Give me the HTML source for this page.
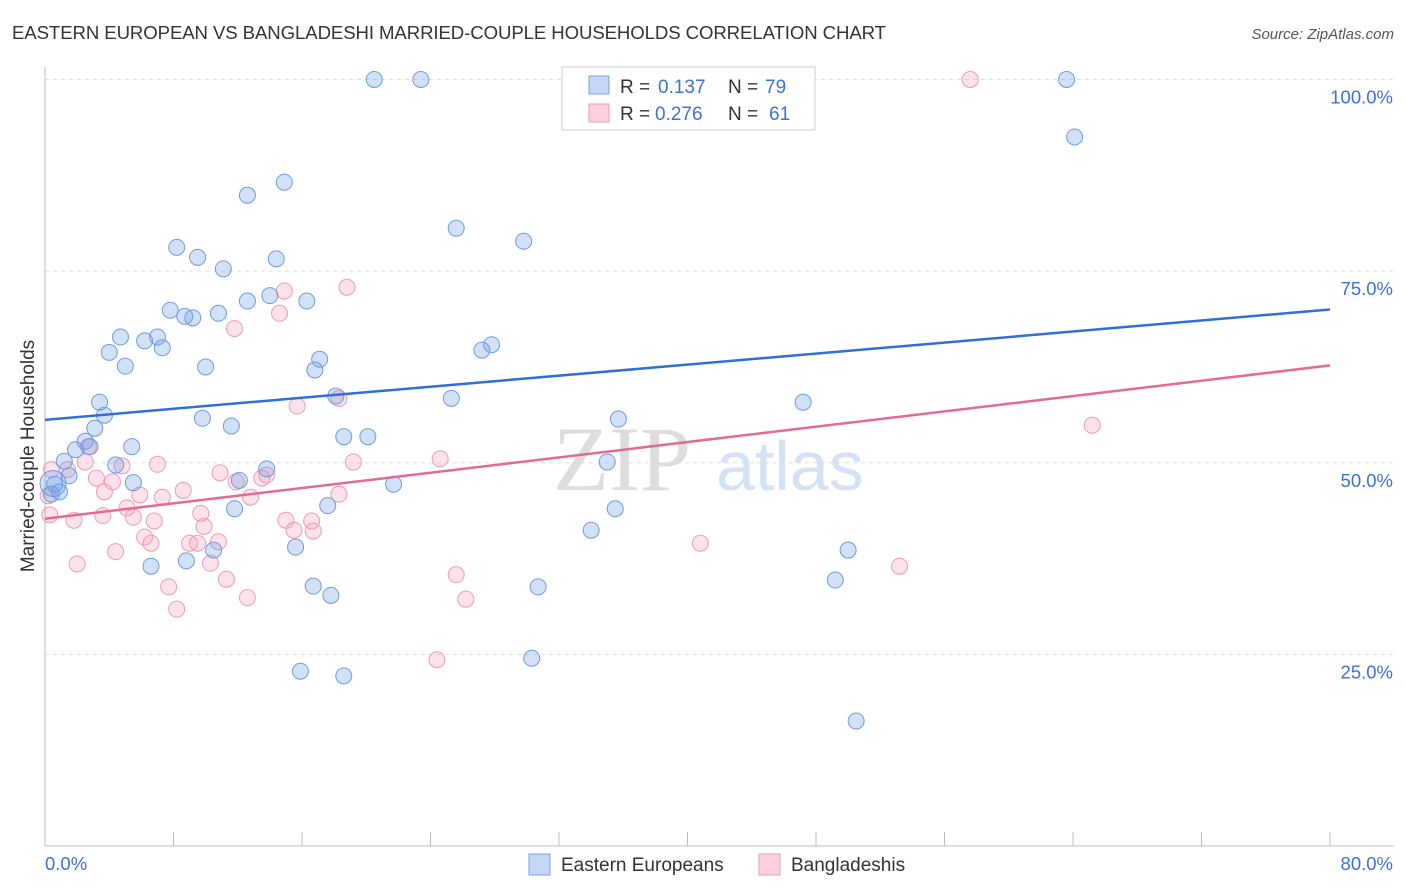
<!DOCTYPE html>
<html><head><meta charset="utf-8"><style>
body{margin:0;background:#fff;font-family:"Liberation Sans",sans-serif;}
svg{display:block}
</style></head><body>
<svg id="chart" width="1406" height="892">
<text x="12" y="39" font-size="18.6" fill="#333" textLength="874">EASTERN EUROPEAN VS BANGLADESHI MARRIED-COUPLE HOUSEHOLDS CORRELATION CHART</text>
<text x="1394" y="39" font-size="15" fill="#555" font-style="italic" text-anchor="end">Source: ZipAtlas.com</text>
<text x="34" y="456" font-size="19" fill="#333" text-anchor="middle" transform="rotate(-90 34 456)">Married-couple Households</text>
<g id="grid"></g><g id="axes"></g>
<text x="553" y="490" font-size="92" fill="#ddd" font-family="Liberation Serif,serif">ZIP</text>
<text x="716" y="490" font-size="70" fill="#d5e2f3">atlas</text>
<g id="points"></g><g id="lines"></g>
<g>
<rect x="562" y="67" width="253" height="63" fill="#fff" stroke="#ccc"/>
<rect x="589" y="76" width="20" height="18" fill="#c5d7f5" stroke="#7aa3e0"/>
<rect x="589" y="104" width="20" height="18" fill="#fbd0dd" stroke="#eb9ab5"/>
<text x="620" y="93" font-size="19" fill="#333">R =</text>
<text x="658" y="93" font-size="19" fill="#3a72d6">0.137</text>
<text x="728" y="93" font-size="19" fill="#333">N =</text>
<text x="765" y="93" font-size="19" fill="#3a72d6">79</text>
<text x="620" y="120" font-size="19" fill="#333">R =</text>
<text x="655" y="120" font-size="19" fill="#3a72d6">0.276</text>
<text x="728" y="120" font-size="19" fill="#333">N =</text>
<text x="769" y="120" font-size="19" fill="#3a72d6">61</text>
</g>
<g>
<rect x="529" y="854" width="21" height="21" fill="#c5d7f5" stroke="#7aa3e0"/>
<text x="561" y="871" font-size="19" fill="#333">Eastern Europeans</text>
<rect x="759" y="854" width="21" height="21" fill="#fbd0dd" stroke="#eb9ab5"/>
<text x="791" y="871" font-size="19" fill="#333">Bangladeshis</text>
</g>
</svg>
<script>
const blueX=[20.5,23.4,63.6,64.1,14.9,12.6,25.6,29.8,8.2,9.5,14.4,11.1,14.0,12.6,16.3,7.8,8.7,9.2,10.8,4.7,6.2,7.0,4.0,7.3,27.8,27.2,5.0,10.0,17.1,16.8,18.1,25.3,47.2,3.4,3.7,9.8,35.7,11.6,3.1,18.6,20.1,2.5,1.9,2.8,5.4,1.2,35.0,4.4,13.8,1.5,12.1,0.6,5.5,21.7,0.9,0.4,17.6,11.8,35.5,34.0,15.6,10.5,50.0,8.8,6.6,49.2,16.7,30.7,17.8,30.3,15.9,18.6,50.5];
const blueY=[100,100,100,92.5,86.6,84.9,80.6,78.9,78.1,76.8,76.6,75.3,71.8,71.1,71.1,69.9,69.1,68.9,69.5,66.4,65.9,66.4,64.4,65.0,65.4,64.7,62.6,62.5,63.5,62.1,58.7,58.4,57.9,57.9,56.2,55.8,55.7,54.8,54.5,53.4,53.4,52.8,51.7,52.1,52.1,50.2,50.1,49.7,49.2,48.3,47.7,47.2,47.4,47.2,46.2,45.9,44.4,44.0,44.0,41.2,39.0,38.6,38.6,37.2,36.5,34.7,33.9,33.8,32.7,24.5,22.8,22.2,16.3];
const pinkX=[57.6,14.9,18.8,14.6,11.8,15.7,18.3,65.2,2.7,24.6,19.2,7.0,2.5,4.8,1.4,0.4,10.9,13.8,13.5,3.2,4.2,11.9,8.6,3.7,5.9,7.3,12.8,18.3,0.2,5.1,9.7,0.3,3.6,5.5,1.8,15.0,16.6,6.8,9.9,15.5,16.7,6.2,6.6,9.0,9.5,10.8,40.8,4.4,10.3,2.0,53.2,11.3,25.6,7.7,12.6,26.2,8.2,24.4];
const pinkY=[100,72.4,72.9,69.5,67.5,57.4,58.4,54.9,52.1,50.5,50.1,49.8,50.1,49.6,49.1,49.1,48.7,48.4,48.0,48.0,47.5,47.5,46.4,46.2,45.8,45.5,45.5,45.9,45.7,44.1,43.4,43.2,43.1,42.9,42.5,42.5,42.4,42.4,41.7,41.2,41.1,40.3,39.5,39.5,39.5,39.7,39.5,38.4,36.9,36.8,36.5,34.8,35.4,33.8,32.4,32.2,30.9,24.3];
const blueTrend=[55.6,70.0];
const pinkTrend=[42.7,62.7];
const yTicks=[25,50,75,100];
const yTickLabels=["25.0%","50.0%","75.0%","100.0%"];
const xTickVals=[0,8,16,24,32,40,48,56,64,72,80];
const NS="http://www.w3.org/2000/svg";
const sx=v=>45+v/80*1285, sy=v=>846-v*7.665;
function mk(tag,attrs,parent){const e=document.createElementNS(NS,tag);for(const k in attrs)e.setAttribute(k,attrs[k]);document.getElementById(parent).appendChild(e);return e;}
yTicks.forEach((t,i)=>{
 const l=mk('line',{x1:45,x2:1394,y1:sy(t),y2:sy(t),stroke:'#ddd','stroke-dasharray':'4,4'},'grid');
 
 
 const tx=mk('text',{x:1393,y:sy(t)+24,'font-size':18.5,fill:'#3a72d6','text-anchor':'end'},'grid');
 tx.textContent=yTickLabels[i];
 
 
});
const ax=mk('line',{x1:45,x2:1394,y1:846,y2:846,stroke:'#bbb'},'axes');


const ay=mk('line',{x1:45,x2:45,y1:67,y2:846,stroke:'#bbb'},'axes');


xTickVals.forEach(v=>{
 const t=mk('line',{x1:sx(v),x2:sx(v),y1:832,y2:846,stroke:'#bbb'},'axes');
 
 
});
const x0=mk('text',{x:45,y:870,'font-size':18.5,fill:'#3a72d6'},'axes');x0.textContent='0.0%';


const x1=mk('text',{x:1393,y:870,'font-size':18.5,fill:'#3a72d6','text-anchor':'end'},'axes');x1.textContent='80.0%';


function pts(xs,ys,fill,stroke,name){xs.forEach((x,i)=>{
 const c=mk('circle',{cx:sx(x),cy:sy(ys[i]),r:8,fill:fill,stroke:stroke,'stroke-width':1},'points');
 
 
});}
pts(pinkX,pinkY,'rgba(245,160,190,0.3)','#eb9ab5','bangladeshi-point');
pts(blueX,blueY,'rgba(110,155,230,0.3)','#6e9be0','eastern-european-point');
const big=mk('circle',{cx:sx(0.5),cy:sy(47.3),r:13,fill:'rgba(110,155,230,0.3)',stroke:'#6e9be0'},'points');


const bl=mk('line',{x1:sx(0),y1:sy(blueTrend[0]),x2:sx(80),y2:sy(blueTrend[1]),stroke:'#2f6fd6','stroke-width':2.5},'lines');


const pl=mk('line',{x1:sx(0),y1:sy(pinkTrend[0]),x2:sx(80),y2:sy(pinkTrend[1]),stroke:'#e36a93','stroke-width':2.5},'lines');


</script>
</body></html>
